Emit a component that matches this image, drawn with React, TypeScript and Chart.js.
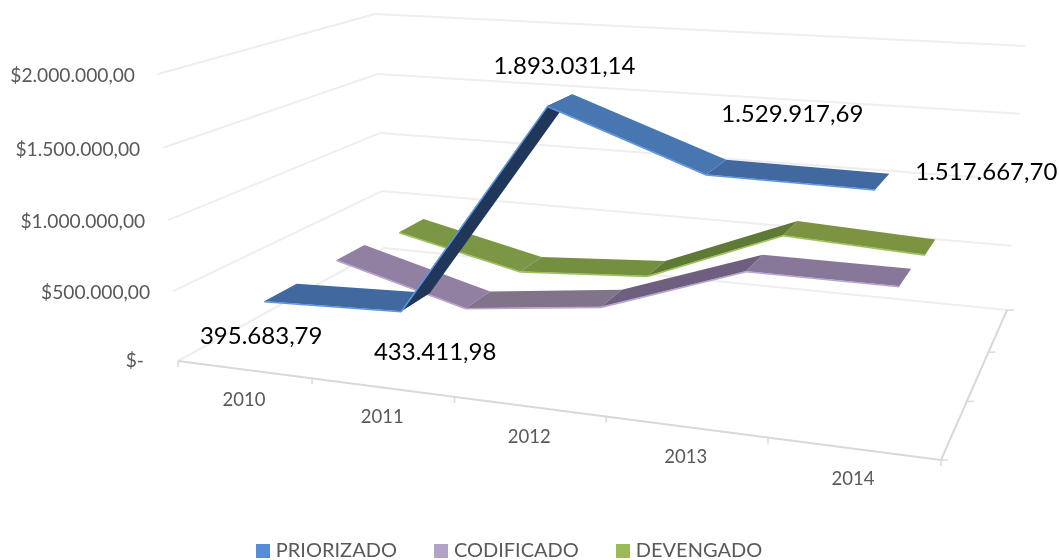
import React, { useEffect, useRef } from "react";
import { Chart, registerables } from "chart.js";

Chart.register(...registerables);

const categories = ["2010", "2011", "2012", "2013", "2014"];
const priorizado = [395683.79, 433411.98, 1893031.14, 1529917.69, 1517667.7];
const codificado = [415000, 150000, 270000, 632000, 630000];
const devengado = [370000, 145000, 212000, 625000, 575000];
const seriesNames = ["PRIORIZADO", "CODIFICADO", "DEVENGADO"];
const legendColors = ["#558ed5", "#b3a2c7", "#9bbb59"];
const edgeColors = ["#5b97e0", "#b9a6d0", "#9dc25a"];
const segmentColors = [
  ["#41699f", "#20375a", "#4776b1", "#4169a0"],
  ["#9280a3", "#817389", "#6f5f7e", "#87789a"],
  ["#7b9645", "#758f41", "#5f7a36", "#7c9342"],
];
const labelOffsets = [
  [-3, 35],
  [34, 41],
  [17, -40],
  [86, -60],
  [111, -17],
];

type P = [number, number];
// Box corners: front-left, front-right, back-right, back-left
const floorQuad: P[] = [[178, 361], [941, 460], [1007, 310], [384, 248]];
const topQuad: P[] = [[158, 74], [961, 125], [1025, 46], [375, 14]];
const HEIGHT_PERSPECTIVE = 0.965;

function makeHomography(q: P[]) {
  const [[x0, y0], [x1, y1], [x2, y2], [x3, y3]] = q;
  const dx1 = x1 - x2, dx2 = x3 - x2, sx = x0 - x1 + x2 - x3;
  const dy1 = y1 - y2, dy2 = y3 - y2, sy = y0 - y1 + y2 - y3;
  const den = dx1 * dy2 - dx2 * dy1;
  const g = (sx * dy2 - dx2 * sy) / den;
  const h = (dx1 * sy - sx * dy1) / den;
  const a = x1 - x0 + g * x1, b = x3 - x0 + h * x3;
  const d = y1 - y0 + g * y1, e = y3 - y0 + h * y3;
  return (u: number, v: number): P => {
    const w = g * u + h * v + 1;
    return [(a * u + b * v + x0) / w, (d * u + e * v + y0) / w];
  };
}
const floorH = makeHomography(floorQuad);
const topH = makeHomography(topQuad);
function project(u: number, v: number, t: number): P {
  const p = floorH(u, v), q = topH(u, v);
  const k = HEIGHT_PERSPECTIVE;
  const s = (t * k) / (1 - t + t * k);
  return [p[0] + (q[0] - p[0]) * s, p[1] + (q[1] - p[1]) * s];
}

const fmtNumber = (n: number) => {
  const [i, f] = n.toFixed(2).split(".");
  return i.replace(/\B(?=(\d{3})+$)/g, ".") + "," + f;
};

const FONT = "Lato";
const SLOT = 1 / seriesNames.length;
const RIBBON_NEAR = 0.29;
const RIBBON_FAR = 0.72;

function line(ctx: CanvasRenderingContext2D, a: P, b: P, color: string, width: number) {
  ctx.strokeStyle = color;
  ctx.lineWidth = width;
  ctx.beginPath();
  ctx.moveTo(a[0], a[1]);
  ctx.lineTo(b[0], b[1]);
  ctx.stroke();
}

function swatch(color: string) {
  const c = document.createElement("canvas");
  c.width = 14;
  c.height = 14;
  const g = c.getContext("2d") as CanvasRenderingContext2D;
  g.fillStyle = color;
  g.fillRect(0, 0, 14, 14);
  return c;
}

const ribbon3d = {
  id: "ribbon3d",
  beforeDatasetsDraw(chart: any) {
    const ctx: CanvasRenderingContext2D = chart.ctx;
    const xs = chart.scales.x;
    const ys = chart.scales.y;
    const uOf = (i: number) => (xs.getPixelForValue(i) - xs.left) / xs.width;
    const tOf = (v: number) => (ys.bottom - ys.getPixelForValue(v)) / ys.height;
    ctx.save();
    ctx.lineCap = "butt";

    // walls
    for (const tick of ys.ticks) {
      const t = tOf(tick.value);
      const fl = project(0, 0, t), bl = project(0, 1, t), br = project(1, 1, t);
      line(ctx, fl, bl, "#eeeeee", 2);
      line(ctx, bl, br, "#eeeeee", 2);
      ctx.fillStyle = "#595959";
      ctx.font = `19.2px ${FONT}`;
      ctx.textAlign = "right";
      ctx.textBaseline = "middle";
      const zero = tick.value === 0;
      ctx.fillText(tick.label as string, fl[0] - (zero ? 34 : 23), fl[1] + (zero ? 0 : 2));
    }

    // floor front and side axes
    const fl = project(0, 0, 0), fr = project(1, 0, 0), br = project(1, 1, 0);
    line(ctx, fl, fr, "#d9d9d9", 2);
    line(ctx, fr, br, "#d9d9d9", 2);
    for (let i = 0; i <= categories.length; i++) {
      const p = project(i / categories.length, 0, 0);
      line(ctx, p, [p[0], p[1] + 6], "#d9d9d9", 1.5);
    }
    for (let i = 0; i <= seriesNames.length; i++) {
      const p = project(1, i * SLOT, 0);
      line(ctx, p, [p[0] + 7, p[1]], "#d9d9d9", 1.5);
    }
    categories.forEach((c, i) => {
      const p = project(uOf(i), 0, 0);
      ctx.fillStyle = "#595959";
      ctx.font = `18.5px ${FONT}`;
      ctx.textAlign = "center";
      ctx.textBaseline = "middle";
      ctx.fillText(xs.getLabelForValue(i), p[0], p[1] + 30);
    });

    // ribbons, back to front
    for (let s = chart.data.datasets.length - 1; s >= 0; s--) {
      const data: number[] = chart.data.datasets[s].data;
      const near = (s + RIBBON_NEAR) * SLOT;
      const far = (s + RIBBON_FAR) * SLOT;
      for (let i = 0; i < data.length - 1; i++) {
        const a = project(uOf(i), near, tOf(data[i]));
        const b = project(uOf(i + 1), near, tOf(data[i + 1]));
        const c = project(uOf(i + 1), far, tOf(data[i + 1]));
        const d = project(uOf(i), far, tOf(data[i]));
        ctx.fillStyle = segmentColors[s][i];
        ctx.beginPath();
        ctx.moveTo(a[0], a[1]);
        ctx.lineTo(b[0], b[1]);
        ctx.lineTo(c[0], c[1]);
        ctx.lineTo(d[0], d[1]);
        ctx.closePath();
        ctx.fill();
        line(ctx, [a[0], a[1] + 0.5], [b[0], b[1] + 0.5], edgeColors[s], 1.6);
      }
    }

    // data labels for the first series
    const first: number[] = chart.data.datasets[0].data;
    first.forEach((v, i) => {
      const p = project(uOf(i), RIBBON_NEAR * SLOT, tOf(v));
      ctx.fillStyle = "#000000";
      ctx.font = `24px ${FONT}`;
      ctx.textAlign = "center";
      ctx.textBaseline = "middle";
      ctx.fillText(fmtNumber(v), p[0] + labelOffsets[i][0], p[1] + labelOffsets[i][1]);
    });
    ctx.restore();
  },
};

export default function App() {
  const ref = useRef<HTMLCanvasElement>(null);
  useEffect(() => {
    const chart = new Chart(ref.current as HTMLCanvasElement, {
      type: "line",
      data: {
        labels: categories,
        datasets: [priorizado, codificado, devengado].map((data, i) => ({
          label: seriesNames[i],
          data,
          showLine: false,
          pointRadius: 0,
          backgroundColor: legendColors[i],
          borderColor: legendColors[i],
          pointStyle: swatch(legendColors[i]),
        })),
      },
      options: {
        animation: false,
        responsive: false,
        layout: { padding: { right: 37 } },
        events: [],
        scales: {
          x: { type: "category", offset: true, display: false },
          y: {
            type: "linear",
            min: 0,
            max: 2000000,
            display: false,
            ticks: {
              stepSize: 500000,
              callback: (v: any) => (Number(v) === 0 ? "$-" : "$" + fmtNumber(Number(v))),
            },
          },
        },
        plugins: {
          tooltip: { enabled: false },
          legend: {
            display: true,
            position: "bottom",
            labels: {
              usePointStyle: true,
              pointStyleWidth: 6,
              boxHeight: 14,
              padding: 41,
              color: "#595959",
              font: { family: FONT, size: 20 },
            },
          },
        },
      },
      plugins: [
        ribbon3d,
        {
          id: "legendShift",
          afterLayout(chart: any) {
            const lg = chart.legend;
            const shift = 551 - (lg.top + lg.options.labels.padding + 10);
            lg.top += shift;
            lg.bottom += shift;
            lg.legendHitBoxes.forEach((b: any) => { b.top += shift; });
          },
        },
      ],
    } as any);
    return () => chart.destroy();
  }, []);
  return (
    <div style={{ position: "absolute", left: 0, top: 0, width: 1059, height: 560, background: "#fff" }}>
      <canvas ref={ref} width={1059} height={560} style={{ display: "block" }} />
    </div>
  );
}
